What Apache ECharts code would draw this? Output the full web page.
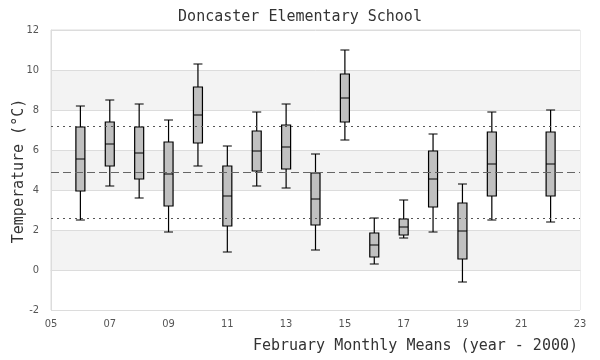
<!DOCTYPE html>
<html>
<head>
<meta charset="utf-8">
<script src="https://cdn.jsdelivr.net/npm/echarts@6/dist/echarts.min.js"></script>
<style>html,body{margin:0;padding:0;background:#fff;}#c{width:600px;height:360px;}</style>
</head>
<body>
<div id="c"></div>
<script>
var years = [6, 7, 8, 9, 10, 11, 12, 13, 14, 15, 16, 17, 18, 19, 20, 22];
var mins  = [2.5, 4.2, 3.6, 1.9, 5.2, 0.9, 4.2, 4.1, 1.0, 6.5, 0.3, 1.6, 1.9, -0.6, 2.5, 2.4];
var q1s   = [3.95, 5.2, 4.55, 3.2, 6.35, 2.2, 4.95, 5.05, 2.25, 7.4, 0.65, 1.75, 3.15, 0.55, 3.7, 3.7];
var meds  = [5.55, 6.3, 5.85, 4.8, 7.75, 3.7, 5.95, 6.15, 3.55, 8.6, 1.25, 2.15, 4.55, 1.95, 5.3, 5.3];
var q3s   = [7.15, 7.4, 7.15, 6.4, 9.15, 5.2, 6.95, 7.25, 4.85, 9.8, 1.85, 2.55, 5.95, 3.35, 6.9, 6.9];
var maxs  = [8.2, 8.5, 8.3, 7.5, 10.3, 6.2, 7.9, 8.3, 5.8, 11.0, 2.6, 3.5, 6.8, 4.3, 7.9, 8.0];
var refUpper = 7.2, refMean = 4.9, refLower = 2.6;
var xName = 'February Monthly Means (year - 2000)';
var yName = 'Temperature (°C)';

var boxData = years.map(function (y, i) { return [y, mins[i], q1s[i], meds[i], q3s[i], maxs[i]]; });
var mono = "'DejaVu Sans Mono', 'Liberation Mono', monospace";
var tickFont = "'DejaVu Sans Condensed', 'Liberation Sans Narrow', 'DejaVu Sans', sans-serif";

var chart = echarts.init(document.getElementById('c'), null, {renderer: 'canvas'});
chart.setOption({
  animation: false,
  backgroundColor: '#fff',
  title: {
    text: 'Doncaster Elementary School',
    left: 'center', top: 5,
    textStyle: {fontFamily: mono, fontSize: 15, fontWeight: 'normal', color: '#333'}
  },
  grid: {left: 51, right: 20, top: 30, bottom: 50, containLabel: false, outerBoundsMode: 'none',
         show: true, borderColor: '#dcdcdc', borderWidth: 1},
  graphic: [
    {type: 'text', right: 22, top: 339, style: {text: xName, font: '15px ' + mono, fill: '#333'}},
    {type: 'text', x: 19, y: 171, rotation: Math.PI / 2,
     style: {text: yName, font: '15px ' + mono, fill: '#333', align: 'center', verticalAlign: 'middle'}}
  ],
  xAxis: {
    type: 'value', min: 5, max: 23, interval: 2,
    axisLine: {show: true, lineStyle: {color: '#dcdcdc'}},
    axisTick: {show: false},
    splitLine: {show: false},
    axisLabel: {
      fontFamily: tickFont, fontSize: 11, color: '#555', margin: 9,
      formatter: function (v) { return (v < 10 ? '0' : '') + v; }
    }
  },
  yAxis: {
    type: 'value', min: -2, max: 12, interval: 2,
    axisLine: {show: true, lineStyle: {color: '#dcdcdc'}},
    axisTick: {show: false},
    splitLine: {show: true, lineStyle: {color: '#dcdcdc'}},
    splitArea: {show: true, areaStyle: {color: ['#ffffff', '#f3f3f3']}},
    axisLabel: {fontFamily: tickFont, fontSize: 11, color: '#555', margin: 12}
  },
  series: [{
    type: 'boxplot',
    layout: 'horizontal',
    boxWidth: [9, 9],
    itemStyle: {color: '#c0c0c0', borderColor: '#000', borderWidth: 1.2},
    data: boxData,
    markLine: {
      silent: true, symbol: 'none', label: {show: false},
      data: [
        {yAxis: refUpper, lineStyle: {type: [2, 4], color: '#555', width: 1.2}},
        {yAxis: refMean, lineStyle: {type: [8, 4], color: '#666', width: 1.2}},
        {yAxis: refLower, lineStyle: {type: [2, 4], color: '#555', width: 1.2}}
      ]
    }
  }]
});
</script>
</body>
</html>
